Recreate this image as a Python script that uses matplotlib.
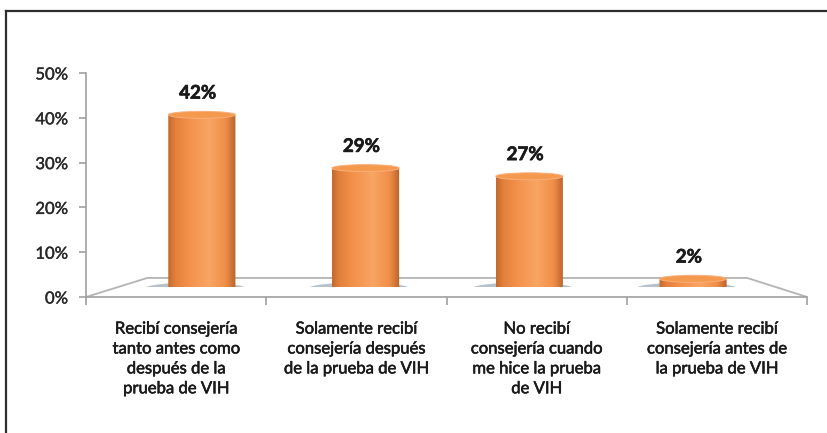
import matplotlib.pyplot as plt
import numpy as np
from matplotlib.patches import Ellipse, PathPatch, Polygon
from matplotlib.path import Path
from matplotlib.colors import LinearSegmentedColormap
from matplotlib.lines import Line2D
import matplotlib.patheffects as pe


categorias = [
    "Recibí consejería\ntanto antes como\ndespués de la\nprueba de VIH",
    "Solamente recibí\nconsejería después\nde la prueba de VIH",
    "No recibí\nconsejería cuando\nme hice la prueba\nde VIH",
    "Solamente recibí\nconsejería antes de\nla prueba de VIH",
]
porcentajes = [42, 29, 27, 2]
ticks_y = [0, 10, 20, 30, 40, 50]
etiquetas_y = ["0%", "10%", "20%", "30%", "40%", "50%"]

FUENTE = "Lato"
GRIS_EJE = "#a0a0a0"
TEXTO = "#1a1a1a"


def trazo(ancho, color=TEXTO):
    # engrosa un poco el texto
    return [pe.withStroke(linewidth=ancho, foreground=color)]


# degradado horizontal del cilindro (bordes algo más oscuros, brillo a la derecha del centro)
cmap_cilindro = LinearSegmentedColormap.from_list(
    "cilindro",
    [(0.0, "#c2692c"), (0.1, "#e17f3c"), (0.3, "#f39049"),
     (0.6, "#f9a564"), (0.85, "#f08e48"), (1.0, "#b9622a")],
)

ANCHO_BARRA = 0.41
ALTO_ELIPSE = 1.7      # en unidades del eje de barras
PROF_SUELO = 0.085     # profundidad del suelo en fracción del eje
SUELO_IZQ = 0.085
SUELO_DER = 0.917


def cilindro(ax, x, alto):
    x0, x1 = x - ANCHO_BARRA / 2, x + ANCHO_BARRA / 2
    a, b = ANCHO_BARRA / 2, ALTO_ELIPSE / 2

    # sombra bajo la base
    ax.add_patch(Ellipse((x - 0.04, -0.3), ANCHO_BARRA * 1.5, ALTO_ELIPSE * 1.6,
                         facecolor="#9eacbc", edgecolor="none", alpha=0.75, zorder=2))

    # contorno: semielipse inferior + rectángulo hasta la tapa
    t = np.linspace(np.pi, 2 * np.pi, 40)
    pts = np.column_stack([x + a * np.cos(t), b * np.sin(t)])
    pts = np.vstack([pts, [x1, alto], [x0, alto], pts[:1]])
    contorno = PathPatch(Path(pts), facecolor="none", edgecolor="none",
                         transform=ax.transData)
    ax.add_patch(contorno)

    grad = np.linspace(0, 1, 256).reshape(1, -1)
    im = ax.imshow(grad, cmap=cmap_cilindro, extent=[x0, x1, -b, alto],
                   aspect="auto", interpolation="bicubic", zorder=3)
    im.set_clip_path(contorno)

    # tapa superior
    ax.add_patch(Ellipse((x, alto), ANCHO_BARRA, ALTO_ELIPSE,
                         facecolor="#f5994f", edgecolor="#f8b07a", lw=0.7, zorder=4))


fig = plt.figure(figsize=(8.28, 4.33), dpi=100)

# eje principal: escala, suelo y rótulos
ax = fig.add_axes([0.1039, 0.3141, 0.8708, 0.5173])
ax.set_xlim(0, len(categorias))
ax.set_ylim(0, 50)
ax.set_yticks(ticks_y)
ax.set_yticklabels(etiquetas_y, fontsize=12, color="#2a2a2a", family=FUENTE)
for lbl in ax.get_yticklabels():
    lbl.set_path_effects(trazo(0.3, "#2a2a2a"))
ax.set_xticks(range(len(categorias) + 1))
ax.set_xticklabels([])
ax.tick_params(axis="y", length=5, width=1.2, color=GRIS_EJE, pad=8)
ax.tick_params(axis="x", length=6, width=1.2, color=GRIS_EJE, direction="out")
for lado in ("top", "right"):
    ax.spines[lado].set_visible(False)
for lado in ("left", "bottom"):
    ax.spines[lado].set_color(GRIS_EJE)
    ax.spines[lado].set_linewidth(1.2)
ax.patch.set_alpha(0)

suelo = Polygon([(0, 0), (SUELO_IZQ, PROF_SUELO), (SUELO_DER, PROF_SUELO), (1, 0)],
                closed=False, transform=ax.transAxes, fill=False,
                edgecolor="#b4b4b4", lw=1.3, zorder=1, clip_on=False)
ax.add_patch(suelo)

for i, texto in enumerate(categorias):
    ax.annotate(texto, xy=(i + 0.5, 0), xytext=(0, -17), textcoords="offset points",
                ha="center", va="top", fontsize=12, color=TEXTO, family=FUENTE,
                linespacing=1.3, annotation_clip=False, path_effects=trazo(0.4))

# eje de las barras (plano medio del suelo)
axb = fig.add_axes([0.1449, 0.3372, 0.791, 0.4734])
axb.set_xlim(-0.5, len(porcentajes) - 0.5)
axb.set_ylim(0, 50)
axb.axis("off")

for i, v in enumerate(porcentajes):
    cilindro(axb, i, v)
    axb.annotate(f"{v}%", xy=(i, v + ALTO_ELIPSE / 2), xytext=(-3, 7),
                 textcoords="offset points", ha="center", va="bottom",
                 fontsize=13.5, fontweight="bold", color=TEXTO, family=FUENTE,
                 path_effects=trazo(0.45))

axb.set_xlim(-0.5, len(porcentajes) - 0.5)
axb.set_ylim(0, 50)

# marco de la figura (solo izquierda y arriba)
fig.add_artist(Line2D([0.0078, 0.0078], [0, 0.9757], color="#2e2e2e", lw=1.6,
                      transform=fig.transFigure))
fig.add_artist(Line2D([0.0078, 1], [0.9757, 0.9757], color="#2e2e2e", lw=1.6,
                      transform=fig.transFigure))

fig.savefig("out.png", dpi=100, facecolor="white")
